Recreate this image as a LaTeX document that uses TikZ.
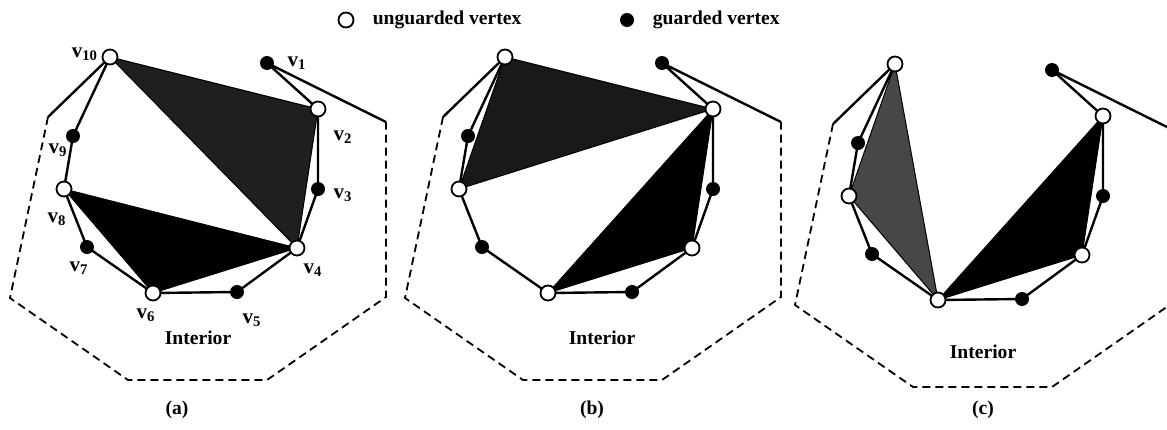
\documentclass[tikz,border=0pt]{standalone}
\usepackage{fontspec}
\setmainfont{Liberation Serif}
\usetikzlibrary{positioning,calc}

\tikzset{
  unguarded/.style={circle,draw,fill=white,line width=0.9pt,minimum size=7.5pt,inner sep=0pt},
  guarded/.style={circle,fill=black,minimum size=7pt,inner sep=0pt},
  chain/.style={line width=1.2pt,line join=round},
  hull/.style={line width=0.9pt,dash pattern=on 4pt off 2.5pt},
  tri/.style={draw,line width=0.5pt,line join=round},
  lbl/.style={font=\fontsize{9.8}{11}\selectfont\bfseries,inner sep=0pt},
  vlbl/.style={font=\fontsize{10.5}{11}\selectfont\bfseries,inner sep=0pt},
}

\begin{document}
\begin{tikzpicture}[x=0.5pt,y=-0.5pt]
  \useasboundingbox (0,0) rectangle (1167,429);
  \clip (0,0) rectangle (1167,429);

  % Vertices and hull corners of the three panels
  \foreach \p/\dx/\dy in {a/0/0,b/395/0,c/785/7} {
    \foreach \i/\x/\y in {1/267/63,2/318/109,3/318/189,4/297/248,5/237/292,
                          6/153/293,7/87/247,8/64/189,9/73/136,10/110/57}
      \coordinate (\p\i) at (\x+\dx,\y+\dy);
    \foreach \i/\x/\y in {A/48/117,B/10/298,C/128/380,D/267/380,E/386/297,F/386/122}
      \coordinate (\p\i) at (\x+\dx,\y+\dy);
  }

  % Triangles
  \path[tri,fill=black!88] (a10) -- (a2) -- (a4) -- cycle;
  \path[tri,fill=black] (a8) -- (a4) -- (a6) -- cycle;
  \path[tri,fill=black!90] (b10) -- (b2) -- (b8) -- cycle;
  \path[tri,fill=black] (b2) -- (b4) -- (b6) -- cycle;
  \path[tri,fill=black!72] (c10) -- (c8) -- (c6) -- cycle;
  \path[tri,fill=black] (c6) -- (c4) -- (c2) -- cycle;

  % Polygon chain and dashed hull
  \foreach \p in {a,b,c} {
    \draw[chain] (\p A) -- (\p10) -- (\p9) -- (\p8) -- (\p7) -- (\p6) -- (\p5)
      -- (\p4) -- (\p3) -- (\p2) -- (\p1) -- (\p F);
    \draw[hull] (\p A) -- (\p B) -- (\p C) -- (\p D) -- (\p E) -- (\p F);
  }

  % Vertex marks
  \foreach \p in {a,b,c} {
    \foreach \i in {1,3,5,7,9} \node[guarded] (\p\i m) at (\p\i) {};
    \foreach \i in {2,4,6,8,10} \node[unguarded] (\p\i m) at (\p\i) {};
  }

  % Vertex labels
  \node[vlbl] (l1) at ($(a1)+(30,0)$) {v\textsubscript{1}};
  \node[vlbl] (l2) at ($(a2)+(25,28)$) {v\textsubscript{2}};
  \node[vlbl] (l3) at ($(a3)+(25,6)$) {v\textsubscript{3}};
  \node[vlbl] (l4) at ($(a4)+(16,22)$) {v\textsubscript{4}};
  \node[vlbl] (l5) at ($(a5)+(15,28)$) {v\textsubscript{5}};
  \node[vlbl] (l6) at ($(a6)+(-7,22)$) {v\textsubscript{6}};
  \node[vlbl] (l7) at ($(a7)+(-8,21)$) {v\textsubscript{7}};
  \node[vlbl] (l8) at ($(a8)+(-7,30)$) {v\textsubscript{8}};
  \node[vlbl] (l9) at ($(a9)+(-15,14)$) {v\textsubscript{9}};
  \node[vlbl] (l10) at ($(a10)+(-25,-3)$) {v\textsubscript{10}};

  % Interior and captions
  \node[lbl] (inta) at (198,338) {Interior};
  \node[lbl] (intb) at (602,338) {Interior};
  \node[lbl] (intc) at (983,352) {Interior};
  \node[lbl] (capa) at (177,410) {(a)};
  \node[lbl] (capb) at (592,410) {(b)};
  \node[lbl] (capc) at (983,410) {(c)};

  % Legend
  \node[unguarded] (keyopen) at (346,20) {};
  \node[lbl,right=9pt of keyopen] (keyopentext) {unguarded vertex};
  \node[guarded] (keyfull) at (627,20) {};
  \node[lbl,right=9pt of keyfull] (keyfulltext) {guarded vertex};
\end{tikzpicture}
\end{document}
